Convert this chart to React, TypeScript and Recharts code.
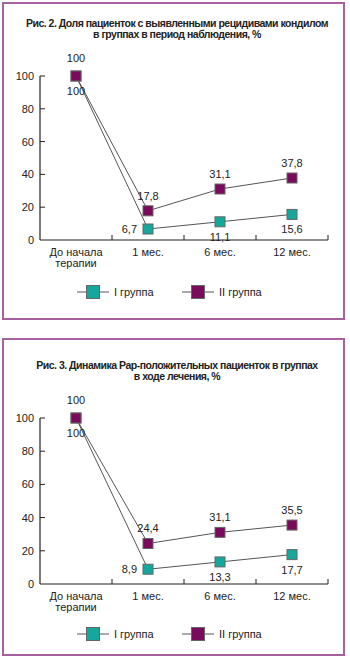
import React from "react";
import { LineChart, Line, XAxis, YAxis, LabelList } from "recharts";

const periods = ["До начала\nтерапии", "1 мес.", "6 мес.", "12 мес."];
const yTicks = [0, 20, 40, 60, 80, 100];

const fig2Title = ["Рис. 2. Доля пациенток с выявленными рецидивами кондилом", "в группах в период наблюдения, %"];
const fig2GroupI = [100, 6.7, 11.1, 15.6];
const fig2GroupII = [100, 17.8, 31.1, 37.8];

const fig3Title = ["Рис. 3. Динамика Pap-положительных пациенток в группах", "в ходе лечения, %"];
const fig3GroupI = [100, 8.9, 13.3, 17.7];
const fig3GroupII = [100, 24.4, 31.1, 35.5];

const seriesNames = ["I группа", "II группа"];

const TEAL = "#14a79b";
const PURPLE = "#7a0b5c";
const LINE = "#555";
const BORDER = "#a8619f";
const FONT = "'Liberation Sans', Arial, sans-serif";

const fmt = (v: number) => String(v).replace(".", ",");

function SquareDot(props: any) {
  const { cx, cy, fill } = props;
  if (cx == null || cy == null) return null;
  return <rect x={cx - 5} y={cy - 5} width={10} height={10} fill={fill} stroke="#666" strokeWidth={1} />;
}

function XTick({ x, y, payload }: any) {
  const lines = String(payload.value).split("\n");
  return (
    <g>
      <line x1={x + 36} x2={x + 36} y1={y} y2={y - 5} stroke="#222" strokeWidth={1} />
      {lines.map((l, i) => (
        <text key={i} x={x} y={y + 12 + i * 11} textAnchor="middle" dominantBaseline="central" fontSize={11} fill="#222" fontFamily={FONT}>
          {l}
        </text>
      ))}
    </g>
  );
}

function YTick({ x, y, payload }: any) {
  return (
    <g>
      {payload.value !== 0 && <line x1={x} x2={x + 5} y1={y} y2={y} stroke="#222" strokeWidth={1} />}
      <text x={x - 6} y={y} textAnchor="end" dominantBaseline="central" fontSize={11} fill="#222" fontFamily={FONT}>
        {payload.value}
      </text>
    </g>
  );
}

const makeLabel = (placement: (i: number) => "top" | "bottom" | "left") => (props: any) => {
  const { x, y, width, value, index } = props;
  const cx = x + (width || 0) / 2;
  const p = placement(index);
  let tx = cx;
  let ty = y;
  let anchor: "middle" | "end" = "middle";
  if (p === "top") ty = y - (index === 0 ? 18 : 15);
  if (p === "bottom") ty = y + 15;
  if (p === "left") {
    tx = cx - 11;
    anchor = "end";
  }
  return (
    <text x={tx} y={ty} textAnchor={anchor} dominantBaseline="central" fontSize={11} fill="#222" fontFamily={FONT}>
      {fmt(value)}
    </text>
  );
};

function LegendItem({ color, label }: { color: string; label: string }) {
  return (
    <div style={{ display: "flex", alignItems: "center", width: 105 }}>
      <svg width={32} height={14}>
        <line x1={0} x2={32} y1={7} y2={7} stroke={LINE} strokeWidth={1} />
        <rect x={9.5} y={0.5} width={13} height={13} fill={color} stroke="#666" strokeWidth={1} />
      </svg>
      <span style={{ marginLeft: 5, fontSize: 11, color: "#222" }}>{label}</span>
    </div>
  );
}

interface FigureProps {
  title: string[];
  groupI: number[];
  groupII: number[];
  panelTop: number;
  shift: number;
  plotTop: number;
  plotBottom: number;
}

function Figure({ title, groupI, groupII, panelTop, shift, plotTop, plotBottom }: FigureProps) {
  const data = periods.map((p, i) => ({ period: p, g1: groupI[i], g2: groupII[i] }));
  const chartH = 300;
  return (
    <>
      <div
        style={{
          position: "absolute",
          left: 2,
          top: panelTop,
          width: 343,
          height: 318,
          border: `2px solid ${BORDER}`,
          boxSizing: "border-box",
        }}
      />
      <div
        style={{
          position: "absolute",
          left: 0,
          top: shift + 18,
          width: 354,
          textAlign: "center",
          fontWeight: "bold",
          fontSize: 10.5,
          lineHeight: "11px",
          color: "#222",
          letterSpacing: -0.5,
        }}
      >
        {title.map((t, i) => (
          <div key={i}>{t}</div>
        ))}
      </div>
      <div style={{ position: "absolute", left: 0, top: shift }}>
        <LineChart
          width={350}
          height={chartH}
          data={data}
          margin={{ top: plotTop, right: 22, left: 0, bottom: chartH - plotBottom - 40 }}
        >
          <XAxis
            dataKey="period"
            scale="band"
            height={40}
            tickLine={false}
            tickSize={0}
            tickMargin={0}
            axisLine={{ stroke: "#222", strokeWidth: 1.2 }}
            tick={<XTick />}
            interval={0}
          />
          <YAxis
            width={40}
            domain={[0, 100]}
            ticks={yTicks}
            tickLine={false}
            tickSize={0}
            tickMargin={0}
            axisLine={{ stroke: "#222", strokeWidth: 1.2 }}
            tick={<YTick />}
            interval={0}
          />
          <Line
            dataKey="g1"
            name={seriesNames[0]}
            stroke={LINE}
            strokeWidth={1}
            fill={TEAL}
            dot={<SquareDot fill={TEAL} />}
            isAnimationActive={false}
          >
            <LabelList dataKey="g1" content={makeLabel((i) => (i === 1 ? "left" : "bottom"))} />
          </Line>
          <Line
            dataKey="g2"
            name={seriesNames[1]}
            stroke={LINE}
            strokeWidth={1}
            fill={PURPLE}
            dot={<SquareDot fill={PURPLE} />}
            isAnimationActive={false}
          >
            <LabelList dataKey="g2" content={makeLabel(() => "top")} />
          </Line>
        </LineChart>
      </div>
      <div style={{ position: "absolute", left: 77, top: shift + 285, display: "flex" }}>
        <LegendItem color={TEAL} label={seriesNames[0]} />
        <LegendItem color={PURPLE} label={seriesNames[1]} />
      </div>
    </>
  );
}

export default function App() {
  return (
    <div style={{ position: "absolute", left: 0, top: 0, width: 350, height: 662, fontFamily: FONT, background: "#fff" }}>
      <Figure title={fig2Title} groupI={fig2GroupI} groupII={fig2GroupII} panelTop={2} shift={0} plotTop={76} plotBottom={240} />
      <Figure title={fig3Title} groupI={fig3GroupI} groupII={fig3GroupII} panelTop={338} shift={342} plotTop={76} plotBottom={242} />
    </div>
  );
}
